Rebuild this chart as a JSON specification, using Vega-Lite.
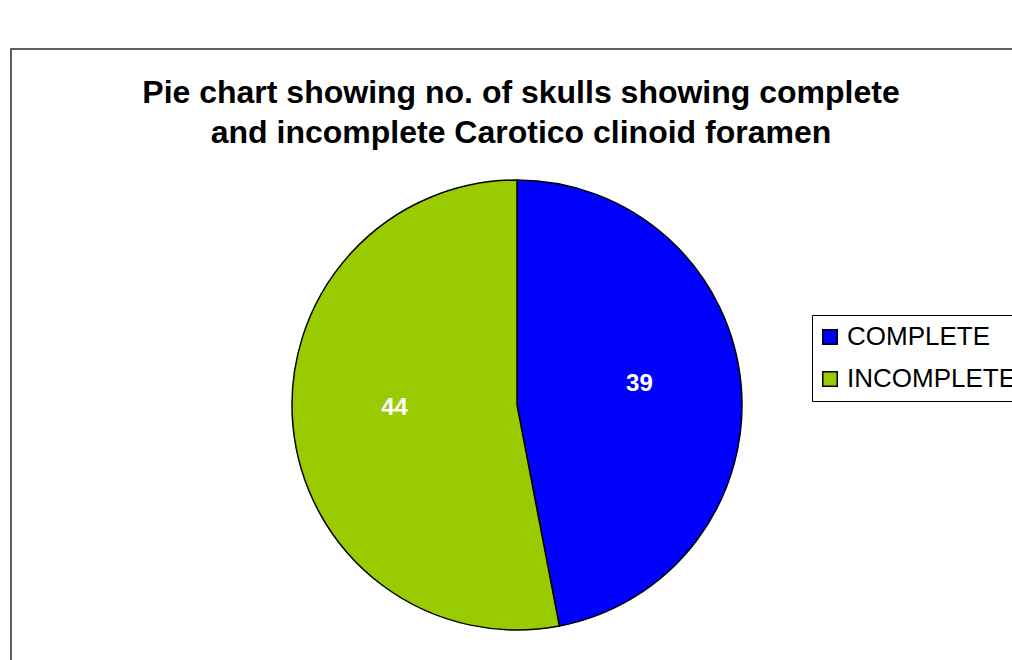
{
  "$schema": "https://vega.github.io/schema/vega-lite/v6.json",
  "autosize": {"type": "none"},
  "width": 1012,
  "height": 712,
  "padding": {"left": 11, "top": 49, "right": 0, "bottom": 0},
  "background": "white",
  "config": {
    "font": "Liberation Sans",
    "view": {"stroke": null}
  },
  "title": {
    "text": ["Pie chart showing no. of skulls showing complete", "and incomplete Carotico clinoid foramen"],
    "font": "Liberation Sans",
    "fontSize": 32,
    "fontWeight": "bold",
    "color": "black",
    "anchor": "middle",
    "frame": "group",
    "baseline": "top",
    "offset": -102,
    "dx": 4,
    "lineHeight": 40
  },
  "data": {
    "values": [
      {"category": "COMPLETE", "count": 39},
      {"category": "INCOMPLETE", "count": 44}
    ]
  },
  "layer": [
    {
      "mark": {"type": "rect", "fill": null, "stroke": "#555555", "strokeWidth": 1.5},
      "encoding": {
        "x": {"value": 0},
        "x2": {"value": "width"},
        "y": {"value": 0},
        "y2": {"value": "height"}
      }
    },
    {
      "mark": {"type": "arc", "outerRadius": 225, "stroke": "black", "strokeWidth": 1.5},
      "encoding": {
        "theta": {"field": "count", "type": "quantitative", "stack": true},
        "color": {
          "field": "category",
          "type": "nominal",
          "scale": {"domain": ["COMPLETE", "INCOMPLETE"], "range": ["#0000FF", "#99CC00"]},
          "legend": {
            "title": null,
            "orient": "none",
            "legendX": 801,
            "legendY": 266,
            "strokeColor": "black",
            "fillColor": "white",
            "padding": 9,
            "symbolType": "square",
            "symbolSize": 210,
            "symbolOffset": -4,
            "symbolStrokeColor": "black",
            "symbolStrokeWidth": 1.5,
            "symbolOpacity": 1,
            "labelFont": "Liberation Sans",
            "labelFontSize": 26,
            "labelColor": "black",
            "labelLimit": 400,
            "labelOffset": 4,
            "rowPadding": 16
          }
        }
      }
    },
    {
      "mark": {"type": "text", "radius": 123, "fill": "white", "fontSize": 24, "fontWeight": "bold", "font": "Liberation Sans", "dy": -9},
      "encoding": {
        "theta": {"field": "count", "type": "quantitative", "stack": true},
        "detail": {"field": "category", "type": "nominal"},
        "text": {"field": "count", "type": "quantitative"}
      }
    }
  ]
}
